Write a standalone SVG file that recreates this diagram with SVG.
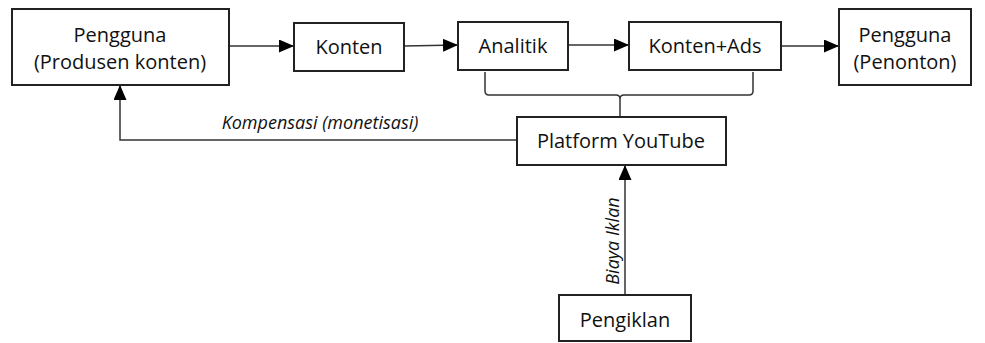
<svg xmlns="http://www.w3.org/2000/svg" width="985" height="343" viewBox="0 0 985 343">
<defs>
<marker id="ah" viewBox="0 0 15 13" refX="15" refY="6.5" markerWidth="15" markerHeight="13" markerUnits="userSpaceOnUse" orient="auto">
<path d="M0,0 L15,6.5 L0,13 Z" fill="#000"/>
</marker>
<style>
.box{fill:#fff;stroke:#222;stroke-width:2}
.t{font-family:"Open Sans","Liberation Sans",sans-serif;font-size:20px;fill:#111;text-anchor:middle}
.lbl{font-family:"Open Sans","Liberation Sans",sans-serif;font-size:18px;font-style:italic;fill:#111;text-anchor:middle}
.ln{fill:none;stroke:#333;stroke-width:1.5}
</style>
</defs>
<rect width="985" height="343" fill="#fff"/>
<g id="connectors">
<line class="ln" x1="229" y1="46" x2="294" y2="46" marker-end="url(#ah)"/>
<line class="ln" x1="404" y1="46" x2="458" y2="45" marker-end="url(#ah)"/>
<line class="ln" x1="568" y1="45" x2="629" y2="45" marker-end="url(#ah)"/>
<line class="ln" x1="781" y1="46" x2="839" y2="46" marker-end="url(#ah)"/>
<path class="ln" d="M485,72 V91 Q485,95 489,95 H616 Q620,95 620,99 V117 M620,99 Q620,95 624,95 H749 Q753,95 753,91 V72"/>
<polyline class="ln" points="517,140 120,140 120,85" marker-end="url(#ah)"/>
<line class="ln" x1="625" y1="295" x2="625" y2="165" marker-end="url(#ah)"/>
<text class="lbl" x="320" y="129">Kompensasi (monetisasi)</text>
<text class="lbl" transform="translate(619,241) rotate(-90)">Biaya Iklan</text>
</g>
<g id="n-produsen"><rect class="box" x="12" y="9" width="217" height="76"/><text class="t" x="120" y="42">Pengguna</text><text class="t" x="120" y="69">(Produsen konten)</text></g>
<g id="n-konten"><rect class="box" x="294" y="23" width="110" height="48"/><text class="t" x="349" y="54">Konten</text></g>
<g id="n-analitik"><rect class="box" x="458" y="22" width="110" height="48"/><text class="t" x="513" y="53">Analitik</text></g>
<g id="n-kontenads"><rect class="box" x="629" y="22" width="152" height="48"/><text class="t" x="705" y="53">Konten+Ads</text></g>
<g id="n-penonton"><rect class="box" x="839" y="9" width="132" height="76"/><text class="t" x="905" y="42">Pengguna</text><text class="t" x="905" y="69">(Penonton)</text></g>
<g id="n-platform"><rect class="box" x="517" y="117" width="209" height="48"/><text class="t" x="621" y="148">Platform YouTube</text></g>
<g id="n-pengiklan"><rect class="box" x="559" y="295" width="132" height="46"/><text class="t" x="625" y="327">Pengiklan</text></g>
</svg>
